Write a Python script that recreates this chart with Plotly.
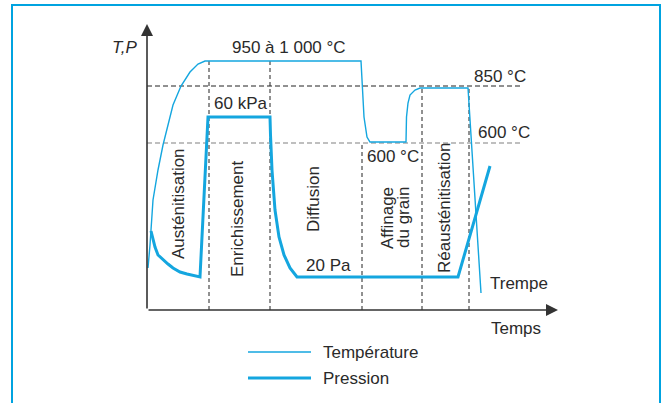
import plotly.graph_objects as go

# Schematic cycle: time (arbitrary units) vs level (arbitrary units)
temps_temperature = [1, 3, 6, 11, 16, 20, 26, 34, 43, 51, 58,
                     214, 215, 217, 220, 223,
                     259, 259.5, 261, 263, 268, 273,
                     321, 334]
temperature = [42, 65, 110, 140, 165, 180, 205, 224, 238, 246, 249,
               249, 227, 193, 173, 168,
               168, 193, 207, 215, 220, 222,
               222, 17]

temps_pression = [4, 8, 11, 16, 21, 26, 33, 40, 47, 53,
                  61, 123, 123.5, 125, 128, 132, 137, 143, 150,
                  311, 343]
pression = [79, 63, 55, 50, 46, 42, 38, 36, 34, 33,
            193, 193, 175, 140, 100, 73, 55, 42, 33,
            33, 144]

# Phase boundaries (time) and their upper ends (level)
limites_phases = [62, 123, 215, 275, 322]
hauts_limites = [249, 249, 167, 222, 222]

# Reference levels
niveau_850 = 224
niveau_600 = 167

phases = ["Austénitisation", "Enrichissement", "Diffusion", "Affinage", "du grain", "Réausténitisation"]

BLEU = "#14a6df"
TEXTE = "#2a2a2a"
W, H = 666, 403

fig = go.Figure()

fig.add_trace(go.Scatter(x=temps_temperature, y=temperature, mode="lines",
                         line=dict(color=BLEU, width=1.4), name="Température",
                         showlegend=False))
fig.add_trace(go.Scatter(x=temps_pression, y=pression, mode="lines",
                         line=dict(color=BLEU, width=3), name="Pression",
                         showlegend=False))

# Dashed guide lines
for xv, top in zip(limites_phases, hauts_limites):
    fig.add_shape(type="line", x0=xv, x1=xv, y0=0, y1=top, xref="x", yref="y",
                  line=dict(color="#222222", width=1, dash="4px,3px"), layer="below")
fig.add_shape(type="line", x0=0, x1=375, y0=niveau_850, y1=niveau_850, xref="x", yref="y",
              line=dict(color="#222222", width=1, dash="5px,3px"), layer="below")
fig.add_shape(type="line", x0=0, x1=373, y0=niveau_600, y1=niveau_600, xref="x", yref="y",
              line=dict(color="#808080", width=1.2, dash="5px,3px"), layer="below")

# Axes drawn as arrows
for (x, y) in [(0, 286), (411, 0)]:
    fig.add_annotation(x=x, y=y, ax=0, ay=0, xref="x", yref="y", axref="x", ayref="y",
                       showarrow=True, arrowhead=2, arrowsize=1.5, arrowwidth=1.6,
                       arrowcolor="#333333", standoff=0, text="")

FS = 17
def label(txt, x, y, angle=0, xanchor="center", size=FS):
    fig.add_annotation(x=x, y=y, xref="x", yref="y", text=txt, showarrow=False,
                       textangle=angle, xanchor=xanchor, yanchor="middle",
                       font=dict(family="Liberation Sans, Arial, sans-serif", size=size, color=TEXTE))

label("<i>T,P</i>", -7, 263, xanchor="right")
label("950 à 1 000 °C", 142, 263)
label("850 °C", 353, 234)
label("60 kPa", 93, 207)
label("600 °C", 357, 178)
label("600 °C", 246, 154)
label("20 Pa", 181, 45)
label("Trempe", 372, 27)
label("Temps", 369, -18)

label(phases[0], 31, 106, angle=-90)
label(phases[1], 90, 91, angle=-90)
label(phases[2], 166, 111, angle=-90)
label(phases[3], 240, 92, angle=-90)
label(phases[4], 256, 92, angle=-90)
label(phases[5], 297, 102, angle=-90)

# Key
fig.add_shape(type="line", x0=101, x1=164, y0=-42, y1=-42, xref="x", yref="y",
              line=dict(color=BLEU, width=1.4))
fig.add_shape(type="line", x0=101, x1=164, y0=-68, y1=-68, xref="x", yref="y",
              line=dict(color=BLEU, width=3))
label("Température", 174, -42, xanchor="left")
label("Pression", 174, -68, xanchor="left")

# Frame
fig.add_shape(type="rect", x0=12 / W, x1=660 / W, y0=-0.05, y1=(H - 5) / H,
              xref="paper", yref="paper", line=dict(color="#00a3e0", width=2))

fig.update_layout(
    width=W, height=H,
    margin=dict(l=0, r=0, t=0, b=0),
    paper_bgcolor="white", plot_bgcolor="white",
    xaxis=dict(range=[-147, 519], visible=False, fixedrange=True),
    yaxis=dict(range=[-93, 310], visible=False, fixedrange=True),
    showlegend=False,
)

fig.write_html("out.html")
